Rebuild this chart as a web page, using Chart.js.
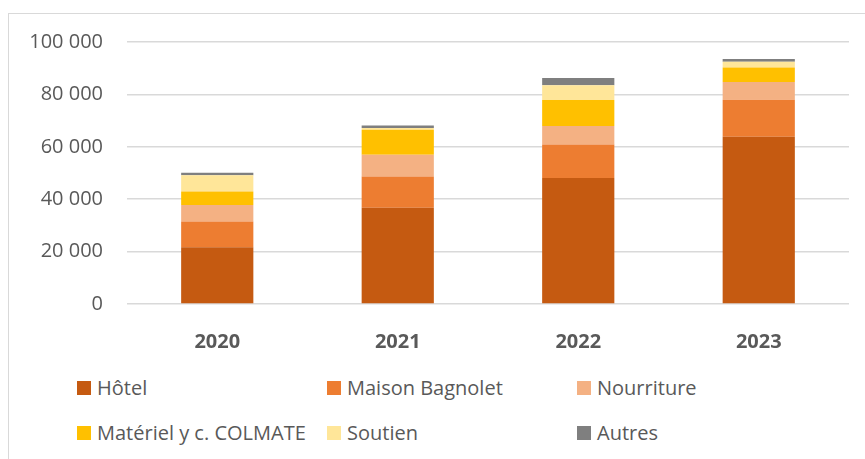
<!DOCTYPE html>
<html lang="fr">
<head>
<meta charset="UTF-8">
<title>Dépenses par année</title>
<style>
    body {
        margin: 0;
        width: 865px;
        height: 459px;
        overflow: hidden;
        background: #fff;
        font-family: "Open Sans", sans-serif;
        position: relative;
    }
    .frame {
        position: absolute;
        left: 8px;
        top: 13px;
        width: 900px;
        height: 500px;
        border: 1px solid #d9d9d9;
    }
    .chart-box {
        position: absolute;
        left: 0;
        top: 0;
        width: 865px;
        height: 360px;
    }
    .legend {
        position: absolute;
        left: 77px;
        top: 376px;
        display: grid;
        grid-template-columns: 250px 250px 250px;
        row-gap: 21px;
        color: #595959;
        font-size: 20px;
        line-height: 24px;
    }
    .legend span.item {
        display: flex;
        align-items: center;
        white-space: nowrap;
    }
    .legend i {
        display: inline-block;
        width: 14px;
        height: 14px;
        margin-right: 6px;
    }
</style>
</head>
<body>
<div class="frame"></div>
<div class="chart-box"><canvas id="chart"></canvas></div>
<div class="legend" id="legend"></div>

<script src="https://cdn.jsdelivr.net/npm/chart.js"></script>
<script>
    // données
    var years = ['2020', '2021', '2022', '2023'];
    var seriesNames = ['Hôtel', 'Maison Bagnolet', 'Nourriture', 'Matériel y c. COLMATE', 'Soutien', 'Autres'];
    var hotel = [21700, 36700, 48100, 63800];
    var maison = [9800, 12000, 12800, 14200];
    var nourriture = [6300, 8300, 7000, 6700];
    var materiel = [5100, 9500, 10000, 5600];
    var soutien = [6200, 700, 5600, 2200];
    var autres = [1000, 900, 2800, 1000];
    var yTicks = [0, 20000, 40000, 60000, 80000, 100000];

    var colors = ['#C55A11', '#ED7D31', '#F4B183', '#FFC000', '#FFE699', '#7F7F7F'];
    var values = [hotel, maison, nourriture, materiel, soutien, autres];

    function fmt(v) {
        return v.toString().replace(/\B(?=(\d{3})+(?!\d))/g, ' ');
    }

    var datasets = seriesNames.map(function(name, i) {
        return {
            label: name,
            data: values[i],
            backgroundColor: colors[i],
            borderWidth: 0,
            barPercentage: 0.4,
            categoryPercentage: 1
        };
    });

    new Chart(document.getElementById('chart'), {
        type: 'bar',
        data: { labels: years, datasets: datasets },
        options: {
            responsive: true,
            maintainAspectRatio: false,
            animation: false,
            layout: { padding: { top: 42, right: 16, left: 0, bottom: 0 } },
            plugins: {
                legend: { display: false },
                tooltip: { enabled: false }
            },
            scales: {
                x: {
                    stacked: true,
                    grid: { display: false },
                    border: { display: false },
                    ticks: {
                        color: '#595959',
                        padding: 18,
                        font: { family: 'Open Sans', size: 20, weight: 'bold' }
                    },
                    afterFit: function(scale) { scale.height = 56; }
                },
                y: {
                    stacked: true,
                    min: 0,
                    max: 100000,
                    afterBuildTicks: function(scale) {
                        scale.ticks = yTicks.map(function(v) { return { value: v }; });
                    },
                    grid: { color: '#d9d9d9', lineWidth: 1.5, drawTicks: false },
                    border: { display: false },
                    ticks: {
                        color: '#595959',
                        padding: 24,
                        font: { family: 'Open Sans', size: 20 },
                        callback: function(v) { return fmt(v); }
                    },
                    afterFit: function(scale) { scale.width = 127; }
                }
            }
        }
    });

    // légende en 3 colonnes
    var legend = document.getElementById('legend');
    seriesNames.forEach(function(name, i) {
        var item = document.createElement('span');
        item.className = 'item';
        item.innerHTML = '<i style="background:' + colors[i] + '"></i>' + name;
        legend.appendChild(item);
    });
</script>
</body>
</html>
